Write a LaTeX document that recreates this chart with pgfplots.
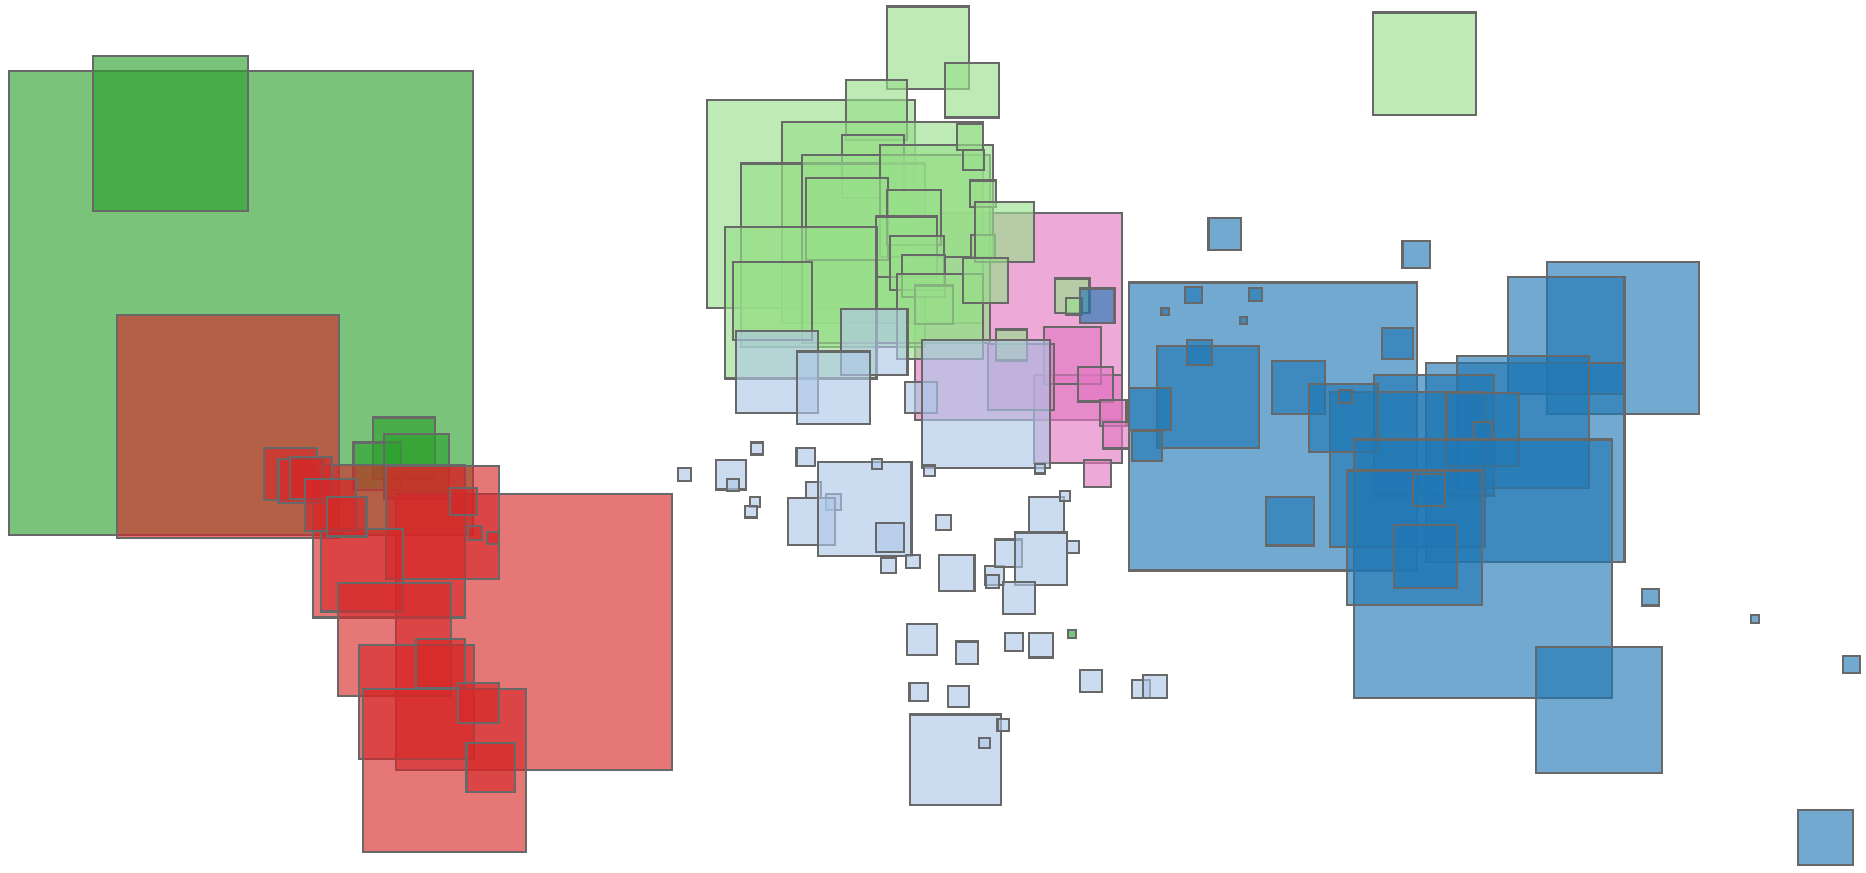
\documentclass[border=0pt]{standalone}
\usepackage{pgfplots}
\pgfplotsset{compat=1.18}
\usepackage{pgfplotstable}
\definecolor{dg}{HTML}{2CA02C}
\definecolor{lg}{HTML}{98DF8A}
\definecolor{rd}{HTML}{D62728}
\definecolor{lb}{HTML}{AEC7E8}
\definecolor{bl}{HTML}{1F77B4}
\definecolor{pk}{HTML}{E377C2}
\definecolor{edge}{HTML}{686868}

\pgfplotstableread{
x y s
202.5 255 390
143.5 112 130
339.5 377 52
317 392 40
350 392 54
901 533 7
}\dgdata

\pgfplotstableread{
x y s
191.5 358.5 187
449 531 232
327 455 128
371.5 439 95
304.5 479.5 69
331.5 537.5 95
350 590 96
373.5 647.5 137
370 558 41
402 591 34
412.5 645 41
389.5 421.5 23
399 448 12
414 452.5 10
244 398.5 44
252.5 404.5 37
261.5 402 35
277.5 424.5 43
291.5 434.5 33
}\rddata

\pgfplotstableread{
x y s
856 266 174
906 352 74
901 299 48
858 317 56
920.5 323 29
935.6 347 22
938 366 22
922 398 23
}\pkdata

\pgfplotstableread{
x y s
779.5 40 69
816.7 75.8 46
681.6 171.7 175
736.5 92.5 51
741.5 187 169
733.4 140 52.5
700 214.5 154
752.8 209 158
786.8 169 94.5
711.5 184 69
768 182.6 46
761.5 207.5 51
770.5 221 45
776 232 36
785 256 32
790 266 72
673 254.6 127
649 253 66
815 115 22
818 134.4 17
826 163 22.5
826 207 19.5
844 195 50
828 236 38
850 290 26
901 248.6 29
902.4 257.4 14
1197 53.5 86
}\lgdata

\pgfplotstableread{
x y s
734.6 287.5 56
653 313 69
700.5 326 61
773.8 334 26.5
828.4 339.6 108
781 395.8 9
874 394 8
575.4 398.8 11
614 399 25
616 408 10
636 377 10
634.5 422 8.5
631 430 10
677 384 15.5
683.4 412 13
700.3 422 13
682 438 39.5
726.6 428 78.6
736.8 390 8.3
747.8 452 24
746.5 475.4 12.5
767.4 472 11.5
793 439 12.6
803.9 481.7 30
836 483.8 16
834 488.7 11
847.4 465 23
874.8 469.6 44
879.5 432.3 29.5
895 417 8.7
901.6 459.7 10.5
856.4 502.8 27
774.8 537.4 25.8
812.7 548.6 18.8
852 539.6 15
874.9 542.4 20.5
916.9 572.8 18.5
959 579 15
970.5 577 19.8
772 581.6 15.5
805.5 585.4 18
802.9 638.6 76
843.2 609.2 10
827.3 624.6 8.6
}\lbdata

\pgfplotstableread{
x y s
1070 358.5 242
1015 333.5 86
1091 325.6 45
1084 438 41
1008 296 21
1003 248 14
1055 247.5 11
979 262 6
1045 269.5 6
1029 197 27
1190 214 23
1174 289 26
1364 284 128
1316 282 98
1281.5 388.5 167
1280 355 111
1205 366 101
1182.6 394.5 130
1129 351.5 57.5
1246 361 61
1130.5 333 11
1246 362 15
1246 478 217
1188.5 452 113
1197.5 467.5 53
1200.5 412 27
922 257 29
966.5 344 35
964 375 25
1387 502 14
1474.5 520.5 7
1556 558.5 14
1343.5 597 106
1534 704 46
}\bldata

\pgfplotsset{
  sq/.style={scatter, only marks, mark=square*,
    visualization depends on={\thisrow{s} \as \side},
    scatter/use mapped color={draw=edge, fill=#1},
    scatter/@pre marker code/.append style={/tikz/mark size=0.16931*\side},
    mark options={fill opacity=0.63, draw opacity=1, line width=0.6pt}},
}

\begin{document}
\begin{tikzpicture}
\useasboundingbox (0,0) rectangle (18.66cm,8.72cm);
\begin{axis}[at={(9.33cm,4.36cm)}, anchor=center,
  hide axis, scale only axis, width=18.66cm, height=8.72cm,
  xmin=0, xmax=1568, ymin=0, ymax=733, y dir=reverse, clip=false]
\addplot[sq=dg] table[x=x,y=y] {\dgdata};
\addplot[sq=rd] table[x=x,y=y] {\rddata};
\addplot[sq=pk] table[x=x,y=y] {\pkdata};
\addplot[sq=lg] table[x=x,y=y] {\lgdata};
\addplot[sq=lb] table[x=x,y=y] {\lbdata};
\addplot[sq=bl] table[x=x,y=y] {\bldata};
\end{axis}
\end{tikzpicture}
\end{document}
